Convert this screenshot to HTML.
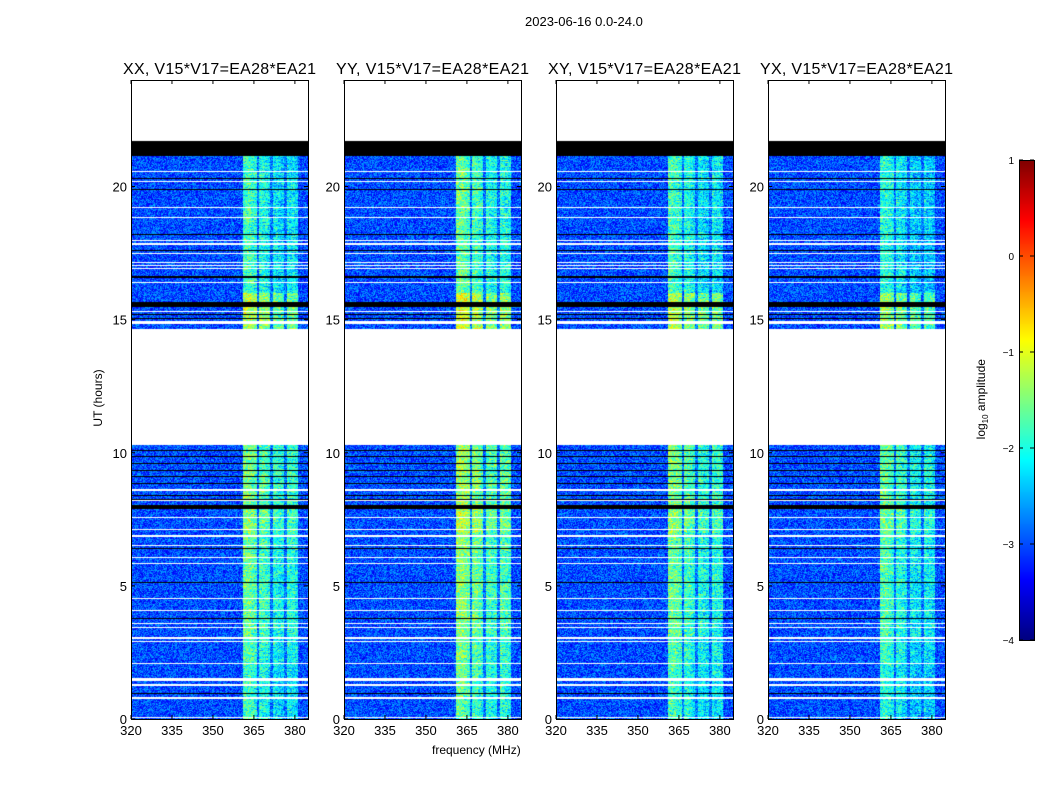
<!DOCTYPE html>
<html><head><meta charset="utf-8">
<style>
body{margin:0;background:#fff;font-family:"Liberation Sans",sans-serif;}
#root{position:relative;width:1050px;height:800px;overflow:hidden;background:#fff;}
.t{position:absolute;white-space:nowrap;color:#000;}
canvas{position:absolute;}
svg{position:absolute;left:0;top:0;}
</style></head><body>
<div id="root">
<div class="t" style="left:525px;top:14px;font-size:13px;">2023-06-16 0.0-24.0</div>
<div class="t" style="left:48px;top:391px;font-size:12px;transform:rotate(-90deg);transform-origin:50% 50%;width:100px;text-align:center;">UT (hours)</div>
<div class="t" style="left:432px;top:743px;font-size:12px;">frequency (MHz)</div>
<div class="t" style="left:922px;top:391px;font-size:12px;transform:rotate(-90deg);transform-origin:50% 50%;width:120px;text-align:center;">log<sub style="font-size:8px">10</sub> amplitude</div>
<svg id="ov" width="1050" height="800"></svg>
</div>
<script>
// ---- data ----
const panelTitles = ["XX, V15*V17=EA28*EA21","YY, V15*V17=EA28*EA21","XY, V15*V17=EA28*EA21","YX, V15*V17=EA28*EA21"];
const xTicks = [320,335,350,365,380];
const yTicks = [0,5,10,15,20];
const cbTicks = [1,0,-1,-2,-3,-4];
// mean log10 amplitude per 1 MHz channel, 320..384
const channelLevel = [
-3.0,-3.0,-3.0,-3.0,-3.0,-3.0,-3.0,-3.0,-3.0,-3.0,
-3.0,-3.0,-3.0,-3.0,-3.0,-3.0,-3.0,-3.0,-3.0,-3.0,
-3.0,-3.0,-3.0,-3.0,-3.0,-3.0,-3.0,-3.0,-3.0,-3.0,
-3.0,-3.0,-3.0,-3.0,-3.0,-3.0,-3.0,-3.0,-3.0,-3.0,
-3.0,-1.7,-1.7,-1.7,-1.8,-1.9,-2.8,-1.9,-1.9,-2.0,
-2.1,-2.8,-2.1,-2.1,-2.2,-2.2,-2.8,-2.0,-2.1,-2.1,
-2.2,-3.0,-3.0,-3.0,-3.0];
// RFI band brightness offset per hour (0..23)
const hourBoost = [-0.1,-0.1,0.0,0.1,0.1,0.1,0.1,0.3,0.2,0.2,0.2,0,0,0,0.5,0.5,-0.1,-0.1,-0.1,-0.1,-0.1,-0.1,0,0];
const panelBoost = [0.0,0.2,0.0,-0.15];
// flagged time spans [startHour, endHour]
const whiteSpans = [[21.7,24],[10.3,14.65],[14.85,14.95]];
const blackSpans = [[21.15,21.7],[15.46,15.68],[7.9,8.05]];
const whiteLines = [20.56,20.18,19.2,18.83,17.96,17.84,17.48,17.15,17.03,16.92,16.4,15.3,8.6,8.2,7.57,7.12,6.9,6.85,6.52,6.08,5.84,4.53,4.09,3.6,3.45,3.04,2.9,2.09,1.5,1.45,1.28,0.79,0.07];
const blackLines = [20.3,19.9,18.2,17.6,16.6,15.2,15.05,10.1,9.85,9.6,9.35,9.1,8.85,8.4,8.25,6.4,5.13,3.79,0.97];

// ---- layout ----
const panelX = [131,344,556,768], PW=177, PT=80, PB=719;
const fMin=320,fMax=384.8,tMin=0,tMax=24;
const xs = (f,i)=>panelX[i]+(f-fMin)/(fMax-fMin)*PW;
const ys = h=>PB-(h-tMin)/(tMax-tMin)*(PB-PT);
function jet(v){
  let t=Math.max(0,Math.min(1,(v+4)/5));
  const r=Math.max(0,Math.min(1,1.5-Math.abs(4*t-3)));
  const g=Math.max(0,Math.min(1,1.5-Math.abs(4*t-2)));
  const b=Math.max(0,Math.min(1,1.5-Math.abs(4*t-1)));
  return [r*255|0,g*255|0,b*255|0];
}
function hash(a,b,c){let h=(a*374761393+b*668265263+c*2147483647)|0;h=(h^(h>>>13))*1274126177|0;return ((h^(h>>>16))>>>0)/4294967296;}
const root=document.getElementById('root');
const NS="http://www.w3.org/2000/svg";
const ov=document.getElementById('ov');
function sv(tag,attrs){const e=document.createElementNS(NS,tag);for(const k in attrs)e.setAttribute(k,attrs[k]);ov.appendChild(e);return e;}
const H=PB-PT;
for(let p=0;p<4;p++){
  const c=document.createElement('canvas');
  c.width=PW;c.height=H;c.style.left=panelX[p]+'px';c.style.top=PT+'px';
  
  
  root.insertBefore(c,ov);
  const ctx=c.getContext('2d');const img=ctx.createImageData(PW,H);
  for(let py=0;py<H;py++){
    const h=tMax-(py+0.5)/H*(tMax-tMin);
    let type=0;
    for(const s of whiteSpans) if(h>=s[0]&&h<s[1]) type=1;
    for(const s of blackSpans) if(h>=s[0]&&h<s[1]) type=2;
    for(const l of whiteLines) if(Math.abs(h-l)<0.022) type=1;
    for(const l of blackLines) if(Math.abs(h-l)<0.02) type=2;
    const row=Math.floor(h*40);
    const hb=hourBoost[Math.min(23,Math.floor(h))];
    for(let px=0;px<PW;px++){
      const k=(py*PW+px)*4;let col;
      if(type===1) col=[255,255,255]; else if(type===2) col=[0,0,0];
      else{
        const f=fMin+(px+0.5)/PW*(fMax-fMin);
        const ch=Math.min(channelLevel.length-1,Math.floor(f-fMin));
        let v=channelLevel[ch];
        if(v>-2.5) v+=hb+panelBoost[p]+(hash(row,ch,p)-0.5)*0.6;
        v+=(hash(row,px,p+7)-0.5)*1.0;
        col=jet(v);
      }
      img.data[k]=col[0];img.data[k+1]=col[1];img.data[k+2]=col[2];img.data[k+3]=255;
    }
  }
  ctx.putImageData(img,0,0);
  const fr=sv('rect',{x:panelX[p]+0.5,y:PT+0.5,width:PW,height:H,fill:'none',stroke:'#000','stroke-width':1});
  
  
  const tt=sv('text',{x:panelX[p]+PW/2,y:74,'text-anchor':'middle','font-size':16,'textLength':193,'font-family':'Liberation Sans, sans-serif'});
  tt.textContent=panelTitles[p];
  
  
  xTicks.forEach(f=>{
    const x=xs(f,p);
    sv('line',{x1:x,x2:x,y1:PB,y2:PB-4,stroke:'#000'});
    sv('line',{x1:x,x2:x,y1:PT,y2:PT+4,stroke:'#000'});
    const l=sv('text',{x:x,y:PB+16,'text-anchor':'middle','font-size':13,'font-family':'Liberation Sans, sans-serif'});
    l.textContent=f;
    
    
  });
  yTicks.forEach(h=>{
    const y=ys(h);
    sv('line',{x1:panelX[p],x2:panelX[p]+4,y1:y,y2:y,stroke:'#000'});
    sv('line',{x1:panelX[p]+PW,x2:panelX[p]+PW-4,y1:y,y2:y,stroke:'#000'});
    const l=sv('text',{x:panelX[p]-4,y:y+5,'text-anchor':'end','font-size':13,'font-family':'Liberation Sans, sans-serif'});
    l.textContent=h;
    
    
  });
}
// colorbar
const CX=1019,CW=15,CT=160,CB=640;
const cb=document.createElement('canvas');cb.width=CW;cb.height=CB-CT;
cb.style.left=CX+'px';cb.style.top=CT+'px';


root.insertBefore(cb,ov);
const cctx=cb.getContext('2d');
for(let y=0;y<CB-CT;y++){const v=1-(y+0.5)/(CB-CT)*5;const c=jet(v);cctx.fillStyle=`rgb(${c[0]},${c[1]},${c[2]})`;cctx.fillRect(0,y,CW,1);}
sv('rect',{x:CX+0.5,y:CT+0.5,width:CW,height:CB-CT,fill:'none',stroke:'#000'});
cbTicks.forEach(v=>{
  const y=CT+(1-v)/5*(CB-CT);
  sv('line',{x1:CX,x2:CX+4,y1:y,y2:y,stroke:'#000'});
  sv('line',{x1:CX+CW,x2:CX+CW-4,y1:y,y2:y,stroke:'#000'});
  const l=sv('text',{x:CX-5,y:y+4,'text-anchor':'end','font-size':10,'font-family':'Liberation Sans, sans-serif'});
  l.textContent=v<0?'\u2212'+(-v):String(v);
  
  
});
</script>
</body></html>
